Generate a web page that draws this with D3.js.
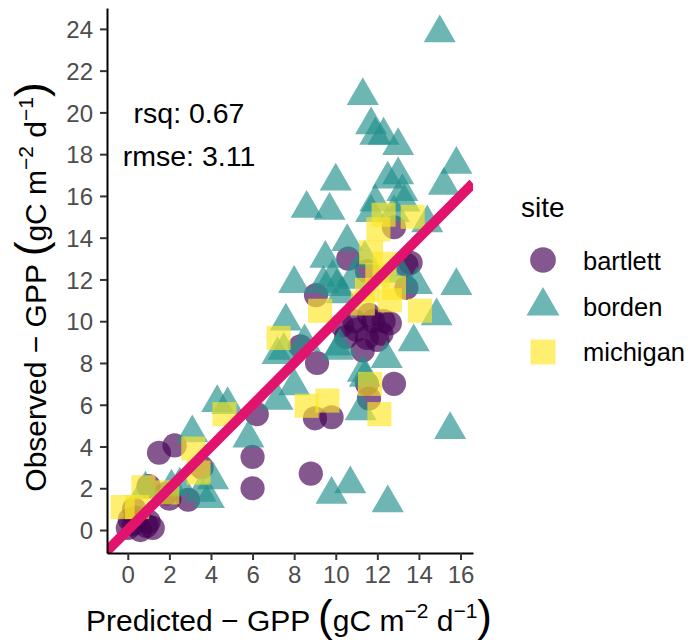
<!DOCTYPE html>
<html>
<head>
<meta charset="utf-8">
<script src="https://cdn.jsdelivr.net/npm/d3@7"></script>
<style>
  html, body { margin: 0; padding: 0; background: #fff; }
  svg { display: block; font-family: "Liberation Sans", Arial, Helvetica, sans-serif; }
</style>
</head>
<body>
<svg id="chart" width="691" height="643"></svg>
<script>
// ---------------- data ----------------
const sites = ["bartlett", "borden", "michigan"];
const siteColors = ["#440154", "#21908C", "#FDE725"];

const bartlettPred = [0.0, 0.3, 0.6, 0.9, 1.2, 0.4, 0.1, 1.0, 1.0, 0.3, 1.5, 2.25, 3.55, 2.9, 1.85, 2.0,
  6.0, 6.0, 8.8, 6.2, 9.0, 9.8, 12.8, 11.6, 11.5, 9.1, 8.3, 9.05, 10.6,
  10.3, 10.5, 10.9, 11.0, 11.3, 11.5, 11.8, 12.0, 12.3, 12.2, 12.6, 11.6,
  13.4, 13.4, 11.5, 12.8, 13.6];
const bartlettObs = [0.1, 0.3, 0.0, 0.2, 0.1, 0.6, 0.5, 0.4, 2.1, 1.0, 3.7, 4.05, 3.0, 1.45, 1.75, 1.5,
  3.5, 2.0, 2.7, 5.55, 5.35, 5.4, 7.0, 6.3, 7.0, 8.0, 8.8, 11.25, 13.0,
  9.8, 9.25, 10.0, 9.6, 8.6, 9.2, 10.0, 9.1, 10.0, 9.4, 9.9, 10.3,
  11.6, 12.7, 12.4, 14.5, 12.8];

const bordenPred = [15.0, 11.3, 11.7, 11.9, 12.3, 13.0, 15.8, 10.0, 13.0, 12.5, 13.2, 15.2, 11.9, 8.6,
  9.7, 11.7, 12.8, 13.3, 10.55, 9.5, 11.4, 14.4, 15.8, 8.0, 9.4, 9.85, 10.05, 13.1, 13.9, 14.85,
  7.6, 7.2, 8.5, 7.5, 10.2, 11.3, 13.75, 12.45, 10.1, 8.0, 7.2, 4.3, 4.8, 5.8, 3.1, 4.1, 2.1,
  2.5, 0.85, 3.9, 3.5, 9.8, 10.7, 12.5, 15.5, 11.4, 11.2, 10.3, 10.8];
const bordenObs = [23.8, 20.8, 19.4, 18.9, 18.9, 18.4, 17.5, 16.7, 17.0, 16.8, 16.2, 16.5, 15.7, 15.4,
  15.3, 15.2, 15.2, 15.7, 13.8, 13.0, 13.0, 14.7, 11.7, 11.8, 11.8, 12.1, 11.65, 12.3, 11.75, 10.25,
  10.0, 8.4, 9.0, 8.6, 8.8, 7.55, 9.0, 8.2, 8.6, 6.9, 6.2, 6.1, 6.0, 4.4, 4.65, 2.4, 2.05,
  2.15, 1.95, 1.5, 1.8, 1.7, 2.2, 1.3, 4.8, 7.3, 5.7, 11.3, 12.0];

const michiganPred = [12.3, 13.7, 12.05, 11.7, 12.35, 11.5, 12.6, 11.3, 14.05, 9.25, 12.8, 12.0, 7.25,
  11.65, 12.1, 8.6, 9.6, 4.65, 3.15, 3.4, 1.9, 0.75, -0.25, 0.45];
const michiganObs = [15.1, 15.0, 14.4, 13.3, 12.75, 11.5, 11.0, 10.85, 10.5, 10.5, 11.6, 12.2, 9.2,
  7.0, 5.55, 5.95, 6.2, 5.55, 3.9, 2.75, 1.8, 2.05, 1.1, 1.1];

const xTicks = [0, 2, 4, 6, 8, 10, 12, 14, 16];
const yTicks = [0, 2, 4, 6, 8, 10, 12, 14, 16, 18, 20, 22, 24];
const statLabels = ["rsq: 0.67", "rmse: 3.11"];

// ---------------- layout ----------------
const svg = d3.select("#chart");
const W = 691, H = 643;
svg.append("rect").attr("width", W).attr("height", H).attr("fill", "#fff");

const panel = { left: 107, right: 473, top: 8, bottom: 553 };
const x = d3.scaleLinear().domain([-1.0, 16.6]).range([panel.left, panel.right]);
const y = d3.scaleLinear().domain([-1.1, 25.0]).range([panel.bottom, panel.top]);

svg.append("defs").append("clipPath").attr("id", "clip")
  .append("rect").attr("x", panel.left).attr("y", panel.top)
  .attr("width", panel.right - panel.left).attr("height", panel.bottom - panel.top);

const ALPHA = 0.66;
const symbols = [d3.symbolCircle, d3.symbolTriangle, d3.symbolSquare];
const symSizes = [460, 445, 580];

const data = [
  bartlettPred.map((p, i) => ({ site: 0, px: p, ob: bartlettObs[i] })),
  bordenPred.map((p, i) => ({ site: 1, px: p, ob: bordenObs[i] })),
  michiganPred.map((p, i) => ({ site: 2, px: p, ob: michiganObs[i] }))
].flat();

const gPts = svg.append("g").attr("clip-path", "url(#clip)");
gPts.selectAll("path.pt").data(data).enter().append("path")
  .attr("class", "pt")
  .attr("transform", d => `translate(${x(d.px)},${y(d.ob)})`)
  .attr("d", d => d3.symbol().type(symbols[d.site]).size(symSizes[d.site])())
  .attr("fill", d => siteColors[d.site])
  .attr("fill-opacity", ALPHA);

// 1:1 line
const lineDom = [-1.1, 16.6];
gPts.append("line")
  .attr("x1", x(lineDom[0])).attr("y1", y(lineDom[0]))
  .attr("x2", x(lineDom[1])).attr("y2", y(lineDom[1]))
  .attr("stroke", "#E2136C").attr("stroke-width", 10);

// axes
const xAxis = d3.axisBottom(x).tickValues(xTicks).tickSizeInner(7).tickSizeOuter(0).tickPadding(5);
const yAxis = d3.axisLeft(y).tickValues(yTicks).tickSizeInner(7).tickSizeOuter(0).tickPadding(7);

const gx = svg.append("g").attr("transform", `translate(0,${panel.bottom})`).call(xAxis);
const gy = svg.append("g").attr("transform", `translate(${panel.left},0)`).call(yAxis);
[gx, gy].forEach(g => {
  g.select(".domain").attr("stroke", "#000").attr("stroke-width", 2);
  g.selectAll(".tick line").attr("stroke", "#333").attr("stroke-width", 2);
  g.selectAll(".tick text").attr("fill", "#4D4D4D").attr("font-size", 24)
    .attr("font-family", "Liberation Sans, Arial, sans-serif");
});
gx.selectAll(".tick text").attr("dy", "0.75em");
gy.selectAll(".tick text").attr("dy", "0.36em");

// annotation
svg.append("text").attr("x", 189).attr("y", 123).attr("text-anchor", "middle")
  .attr("font-size", 28.5).attr("fill", "#000").text(statLabels[0]);
svg.append("text").attr("x", 189).attr("y", 166).attr("text-anchor", "middle")
  .attr("font-size", 28.5).attr("fill", "#000").text(statLabels[1]);

// axis titles with superscripts
function axisTitle(sel, main) {
  sel.attr("font-size", 30).attr("fill", "#000").attr("text-anchor", "middle");
  sel.append("tspan").text(main + " \u2212 GPP ");
  sel.append("tspan").attr("font-size", 44).attr("dy", 0).text("(");
  sel.append("tspan").text("gC m");
  sel.append("tspan").attr("font-size", 21).attr("dy", -13).text("\u22122");
  sel.append("tspan").attr("dy", 13).text(" d");
  sel.append("tspan").attr("font-size", 21).attr("dy", -13).text("\u22121");
  sel.append("tspan").attr("font-size", 44).attr("dy", 13).text(")");
}
axisTitle(svg.append("text").attr("x", 289).attr("y", 631), "Predicted");
axisTitle(svg.append("text").attr("transform", "translate(46,287) rotate(-90)"), "Observed");

// legend
const lg = svg.append("g");
lg.append("text").attr("x", 521).attr("y", 217).attr("font-size", 28).attr("fill", "#000").text("site");
const legY = [260, 306, 352];
const legLabY = [270, 316, 361];
sites.forEach((s, i) => {
  lg.append("path")
    .attr("transform", `translate(543,${legY[i]})`)
    .attr("d", d3.symbol().type(symbols[i]).size(i === 1 ? 470 : (i === 0 ? 520 : 620))())
    .attr("fill", siteColors[i]).attr("fill-opacity", ALPHA);
  lg.append("text").attr("x", 583).attr("y", legLabY[i]).attr("font-size", 25.5)
    .attr("fill", "#000").text(s);
});
</script>
</body>
</html>
